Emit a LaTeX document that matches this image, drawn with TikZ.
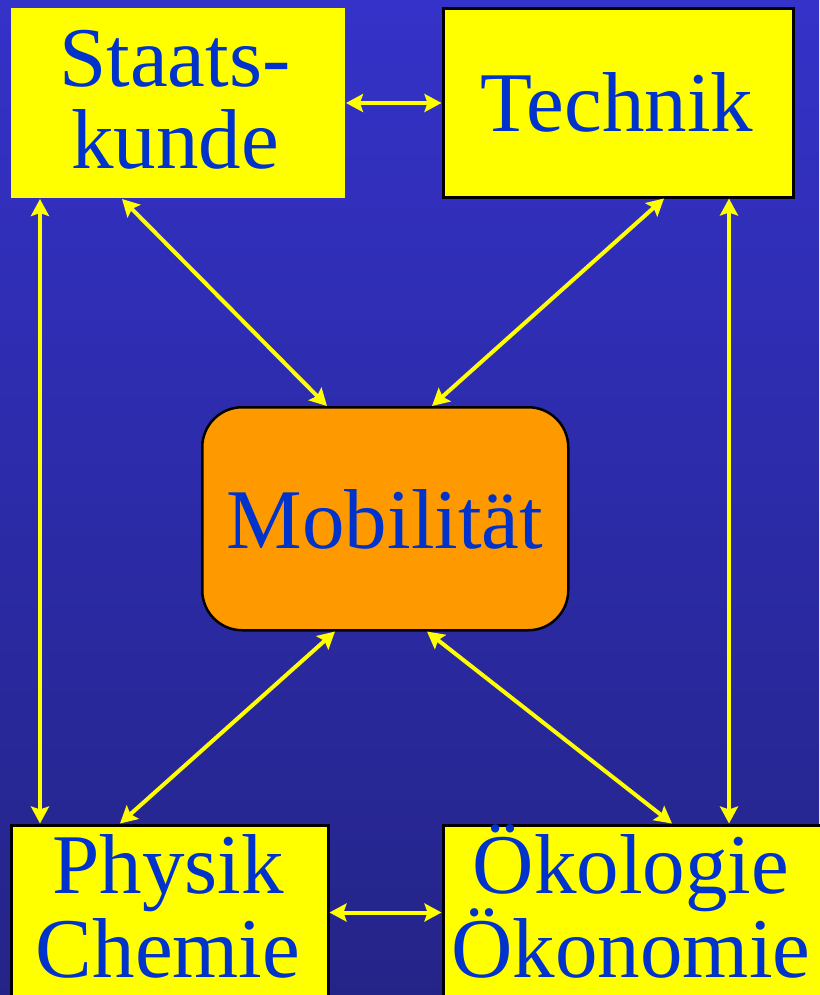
\documentclass[tikz,border=0pt]{standalone}
\usepackage{fontspec}
\setmainfont{Liberation Serif}
\usetikzlibrary{arrows.meta,calc}
\definecolor{bgtop}{RGB}{52,50,200}
\definecolor{bgbot}{RGB}{36,36,136}
\definecolor{txtblue}{RGB}{0,51,204}
\definecolor{mobfill}{RGB}{255,153,0}
\definecolor{ylw}{RGB}{255,255,0}
\tikzset{
  box/.style={fill=ylw, draw=black, line width=3pt, inner sep=0pt, anchor=north west},
  lbl/.style={text=txtblue, font=\fontsize{85}{85}\selectfont, anchor=base, inner sep=0pt},
  link/.style={ylw, line width=4pt,
    arrows={Stealth[length=17pt,width=18pt,inset=3pt]-Stealth[length=17pt,width=18pt,inset=3pt]}}
}
\begin{document}
\begin{tikzpicture}[x=1pt,y=-1pt]
\fill[top color=bgtop,bottom color=bgbot] (0,0) rectangle (819,995);
\useasboundingbox (0,0) rectangle (819,995);
% boxes
\node[box, draw=none, minimum width=334pt, minimum height=189pt] (staats) at (9,7) {};
\node[box, minimum width=350pt, minimum height=188pt] (technik) at (441.5,7.5) {};
\node[box, draw=black, line width=2.5pt, fill=mobfill, rounded corners=40pt, minimum width=366pt, minimum height=223pt] (mobil) at (201,406) {};
\node[box, minimum width=317pt, minimum height=175pt] (physik) at (9.5,823.5) {};
\node[box, minimum width=390pt, minimum height=175pt] (oeko) at (441.5,823.5) {};
% texts
\node[lbl] (t1) at (175,87) {Staats-};
\node[lbl] (t2) at (175,168) {kunde};
\node[lbl] (t3) at (617,132) {Technik};
\node[lbl] (t4) at (385,548) {Mobilität};
\node[lbl] (t5) at (168,893) {Physik};
\node[lbl] (t6) at (168,977) {Chemie};
\node[lbl] (t7) at (631,893) {Ökologie};
\node[lbl] (t8) at (631,977) {Ökonomie};
% connectors
\draw[link] (staats.east) -- (technik.west);
\draw[link] (physik.east) -- (oeko.west);
\draw[link] ([xshift=31pt]staats.south west) -- ([xshift=30.5pt]physik.north west);
\draw[link] ([xshift=287.5pt]technik.south west) -- ([xshift=287.5pt]oeko.north west);
\draw[link] ([xshift=113pt]staats.south west) -- ([xshift=126pt]mobil.north west);
\draw[link] ([xshift=222.5pt]technik.south west) -- ([xshift=231pt]mobil.north west);
\draw[link] ([xshift=134pt]mobil.south west) -- ([xshift=110.5pt]physik.north west);
\draw[link] ([xshift=226pt]mobil.south west) -- ([xshift=230.5pt]oeko.north west);
\end{tikzpicture}
\end{document}
